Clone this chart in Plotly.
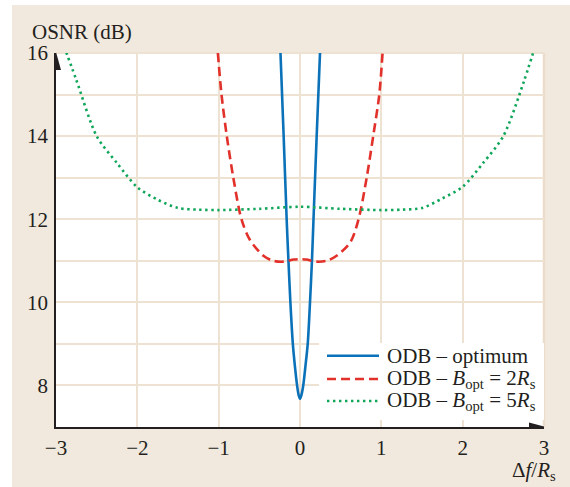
import plotly.graph_objects as go

# OSNR versus normalised frequency offset for three optical delay-line (ODB) receivers
x_opt = [-0.24, -0.2, -0.164, -0.142, -0.118, -0.088, -0.062, -0.036, -0.016, 0.0,
         0.016, 0.04, 0.066, 0.095, 0.123, 0.147, 0.166, 0.205, 0.246]
osnr_opt = [16.0, 13.95, 12.0, 11.0, 10.0, 9.0, 8.45, 8.0, 7.76, 7.68,
            7.76, 8.0, 8.45, 9.0, 10.0, 11.0, 12.0, 14.0, 16.0]

x_2rs = [-1.01, -0.965, -0.9, -0.82, -0.72, -0.615, -0.45, -0.33, -0.2, -0.08, 0.0,
         0.08, 0.2, 0.33, 0.45, 0.62, 0.72, 0.82, 0.9, 0.975, 1.015]
osnr_2rs = [16.0, 15.0, 14.0, 13.0, 12.0, 11.5, 11.12, 11.0, 10.98, 11.03, 11.04,
            11.03, 10.98, 11.0, 11.12, 11.45, 12.0, 13.0, 14.0, 15.0, 16.0]

x_5rs = [-3.0, -2.75, -2.5, -2.25, -2.0, -1.75, -1.5, -1.25, -1.0, -0.5, 0.0,
         0.5, 1.0, 1.25, 1.5, 1.75, 2.0, 2.25, 2.5, 2.75, 3.0]
osnr_5rs = [16.7, 15.35, 14.0, 13.35, 12.77, 12.47, 12.27, 12.23, 12.22, 12.25, 12.3,
            12.25, 12.22, 12.23, 12.27, 12.5, 12.78, 13.35, 14.0, 15.3, 16.85]

x_ticks = [-3, -2, -1, 0, 1, 2, 3]
y_ticks = [8, 10, 12, 14, 16]

series_names = [
    "ODB – optimum",
    "ODB – <i>B</i><sub>opt</sub> = 2<i>R</i><sub>s</sub>",
    "ODB – <i>B</i><sub>opt</sub> = 5<i>R</i><sub>s</sub>",
]

BLUE = "#0b72b9"
RED = "#e2302a"
GREEN = "#10a65a"
PANEL = "#f2e9de"
GRID = "#eee2d3"
INK = "#231f20"
FONT = "Liberation Serif"

W, H = 570, 487
L, R, T, B = 56, 26, 53, 60
PW, PH = W - L - R, H - T - B


def px(xp):
    return (xp - L) / PW


def py(yp):
    return (H - B - yp) / PH


styles = [
    dict(color=BLUE, width=2.6),
    dict(color=RED, width=2.6, dash="9px,5px"),
    dict(color=GREEN, width=2.6, dash="2.4px,3.6px"),
]

fig = go.Figure()
for xs, ys, st, name in zip([x_opt, x_2rs, x_5rs], [osnr_opt, osnr_2rs, osnr_5rs], styles, series_names):
    fig.add_trace(go.Scatter(x=xs, y=ys, mode="lines", name=name,
                             line=dict(shape="spline", smoothing=0.8, **st),
                             showlegend=False, hoverinfo="skip"))

fig.update_layout(
    width=W, height=H,
    margin=dict(l=L, r=R, t=T, b=B),
    paper_bgcolor=PANEL,
    plot_bgcolor="white",
    font=dict(family=FONT, size=21, color=INK),
    xaxis=dict(range=[-3, 3], tickvals=x_ticks, showgrid=True, gridcolor=GRID, gridwidth=2,
               zeroline=False, showline=True, linecolor=INK, linewidth=1.5,
               ticks="", ticklabelstandoff=1),
    yaxis=dict(range=[7, 16], tickvals=y_ticks, showgrid=True, gridcolor=GRID, gridwidth=2,
               zeroline=False, showline=True, linecolor=INK, linewidth=1.5,
               ticks="", ticklabelstandoff=2,
               minor=dict(dtick=1, tick0=0, showgrid=True, gridcolor=GRID, gridwidth=2)),
)

shapes = []
# white page strips around the beige panel
shapes.append(dict(type="rect", xref="paper", yref="paper", x0=px(0), x1=px(W),
                   y0=py(5), y1=py(-2), fillcolor="white", line_width=0, layer="above"))
shapes.append(dict(type="rect", xref="paper", yref="paper", x0=px(-2), x1=px(12),
                   y0=py(H + 2), y1=py(-2), fillcolor="white", line_width=0, layer="above"))
# beige frame along the top and right edges of the plotting area
shapes.append(dict(type="line", xref="paper", yref="paper", x0=0, x1=1, y0=1, y1=1,
                   line=dict(color=GRID, width=2), layer="below"))
shapes.append(dict(type="line", xref="paper", yref="paper", x0=1, x1=1, y0=0, y1=1,
                   line=dict(color="#ebdccb", width=2.5), layer="below"))
# arrow heads on the axes
shapes.append(dict(type="path", xref="x", yref="y", xsizemode="pixel", ysizemode="pixel",
                   xanchor=-3, yanchor=16, path="M0,1 L-5,-17 L5,-17 Z",
                   fillcolor=INK, line_width=0, layer="above"))
shapes.append(dict(type="path", xref="x", yref="y", xsizemode="pixel", ysizemode="pixel",
                   xanchor=3, yanchor=7, path="M2,0 L-15,4.5 L-15,-4.5 Z",
                   fillcolor=INK, line_width=0, layer="above"))
# key box
shapes.append(dict(type="rect", xref="paper", yref="paper", x0=px(319), x1=1.0,
                   y0=py(420), y1=py(343), fillcolor="white", line_width=0, layer="above"))
key_rows = [355.7, 379, 401]
for yr, st in zip(key_rows, styles):
    shapes.append(dict(type="line", xref="paper", yref="paper", x0=px(327), x1=px(379),
                       y0=py(yr), y1=py(yr), line=st, layer="above"))
fig.update_layout(shapes=shapes)

annotations = [
    dict(text="OSNR (dB)", xref="paper", yref="paper", x=px(30), y=py(32),
         xanchor="left", yanchor="middle", showarrow=False),
    dict(text="Δ<i>f</i>/<i>R</i><sub>s</sub>", xref="paper", yref="paper", x=px(558), y=py(471),
         xanchor="right", yanchor="middle", showarrow=False),
]
for yr, name in zip(key_rows, series_names):
    annotations.append(dict(text=name, xref="paper", yref="paper", x=px(385), y=py(yr),
                            xanchor="left", yanchor="middle", showarrow=False))
fig.update_layout(annotations=annotations)

fig.write_html("out.html")
